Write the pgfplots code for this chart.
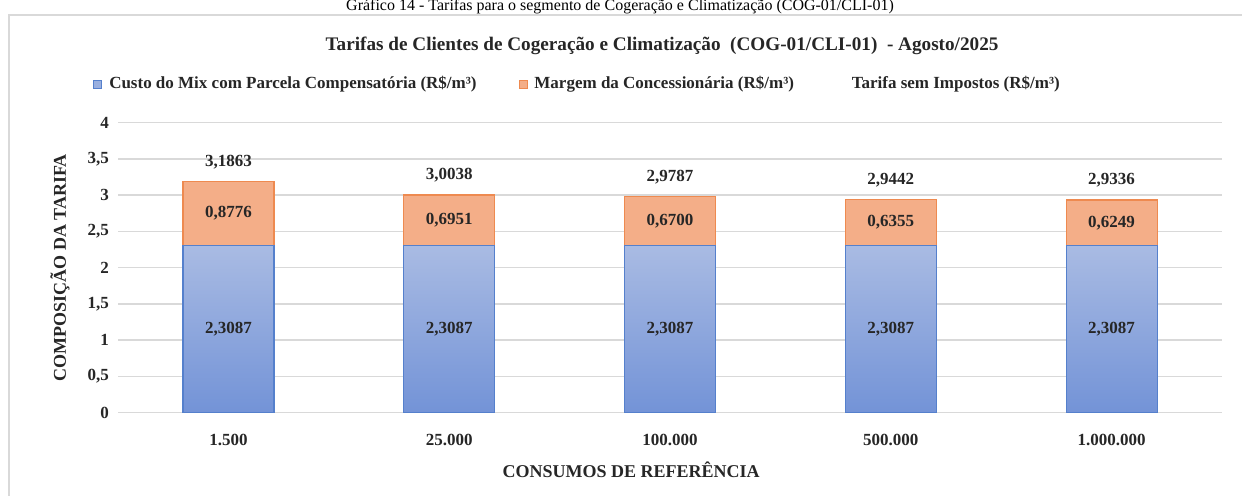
\documentclass[border=0pt]{standalone}
\usepackage{pgfplots}
\pgfplotsset{compat=1.18}
\usepackage{fontspec}
\setmainfont{Liberation Serif}
\definecolor{blueT}{HTML}{A9BBE3}
\definecolor{blueB}{HTML}{7393D7}
\definecolor{blueE}{HTML}{5580CC}
\definecolor{orF}{HTML}{F4AE88}
\definecolor{orE}{HTML}{EE8A50}
\definecolor{gridc}{HTML}{D9D9D9}
\definecolor{txt}{HTML}{262626}
\newcommand{\lbl}{\bfseries\fontsize{8.5}{10}\selectfont}
\begin{document}
\begin{tikzpicture}
\useasboundingbox (0pt,0pt) rectangle (621pt,248pt);
\draw[gridc, line width=0.8pt] (4.5pt,-10pt) rectangle (635pt,240.5pt);
\node[anchor=base, inner sep=0pt, font=\fontsize{8}{9}\selectfont] at (310pt,242.6pt) {Gráfico 14 - Tarifas para o segmento de Cogeração e Climatização (COG-01/CLI-01)};
\begin{axis}[
  at={(59pt,41.65pt)}, anchor=south west,
  scale only axis, width=552pt, height=145pt,
  ybar, bar width=45.5pt, bar shift=0pt,
  xmin=-0.5, xmax=4.5, ymin=0, ymax=4,
  xtick={0,1,2,3,4},
  xticklabels={1.500,25.000,100.000,500.000,1.000.000},
  ytick={0,0.5,...,4},
  /pgf/number format/.cd, use comma, 1000 sep={}, assume math mode=true, /pgfplots/.cd,
  ymajorgrids, major grid style={gridc, line width=0.8pt},
  axis line style={draw=none},
  major tick style={draw=none},
  tick label style={font=\lbl, text=txt},
  yticklabel style={xshift=-1pt},
  xticklabel style={yshift=-3pt},
  ylabel={COMPOSIÇÃO DA TARIFA},
  every axis y label/.style={at={(rel axis cs:-0.0525,0.5)}, rotate=90, anchor=center, font=\bfseries\fontsize{9}{11}\selectfont, text=txt},
  xlabel={CONSUMOS DE REFERÊNCIA},
  every axis x label/.style={at={(rel axis cs:0.4647,-0.1966)}, anchor=center, font=\bfseries\fontsize{9}{11}\selectfont, text=txt},
  title={Tarifas de Clientes de Cogeração e Climatização\ \ (COG-01/CLI-01)\ \ - Agosto/2025},
  every axis title/.style={at={(rel axis cs:0.4928,1.2645)}, anchor=center, font=\bfseries\fontsize{9.6}{11}\selectfont, text=txt},
  legend image code/.code={\fill[#1] (0pt,-2pt) rectangle (4pt,2pt);},
  legend style={draw=none, fill=none, inner sep=0pt, at={(rel axis cs:-0.0226,1.1334)}, anchor=west,
    font=\lbl, text=txt, legend columns=3,
    /tikz/every odd column/.style={column sep=1.5pt},
    /tikz/every even column/.style={column sep=19pt}},
  legend cell align=left,
]
\addlegendimage{fill=blueT!70!blueB, draw=blueE}
\addlegendentry{Custo do Mix com Parcela Compensatória (R\$/m³)}
\addlegendimage{fill=orF, draw=orE}
\addlegendentry{Margem da Concessionária (R\$/m³)}
\addlegendimage{opacity=0}
\addlegendentry{Tarifa sem Impostos (R\$/m³)}
% orange: full tariff height (lower part covered by the blue bars)
\addplot[forget plot, fill=orF, draw=orE, line width=0.6pt]
  coordinates {(0,3.1863) (1,3.0038) (2,2.9787) (3,2.9442) (4,2.9336)};
% blue: cost of mix
\addplot[forget plot, top color=blueT, bottom color=blueB, draw=blueE, line width=0.6pt]
  coordinates {(0,2.3087) (1,2.3087) (2,2.3087) (3,2.3087) (4,2.3087)};
% labels inside blue segments
\addplot[forget plot, sharp plot, draw=none, mark=none, nodes near coords, point meta=explicit symbolic,
  nodes near coords align=center, every node near coord/.style={anchor=center, font=\lbl, text=txt}]
  coordinates {(0,1.15435)[2,3087] (1,1.15435)[2,3087] (2,1.15435)[2,3087] (3,1.15435)[2,3087] (4,1.15435)[2,3087]};
% labels inside orange segments
\addplot[forget plot, sharp plot, draw=none, mark=none, nodes near coords, point meta=explicit symbolic,
  nodes near coords align=center, every node near coord/.style={anchor=center, font=\lbl, text=txt}]
  coordinates {(0,2.7475)[0,8776] (1,2.65625)[0,6951] (2,2.6437)[0,6700] (3,2.62645)[0,6355] (4,2.62115)[0,6249]};
% totals above bars
\addplot[forget plot, sharp plot, draw=none, mark=none, nodes near coords, point meta=explicit symbolic,
  nodes near coords align=center, every node near coord/.style={anchor=south, inner sep=0pt, yshift=6pt, font=\lbl, text=txt}]
  coordinates {(0,3.1863)[3,1863] (1,3.0038)[3,0038] (2,2.9787)[2,9787] (3,2.9442)[2,9442] (4,2.9336)[2,9336]};
\end{axis}
\end{tikzpicture}
\end{document}
